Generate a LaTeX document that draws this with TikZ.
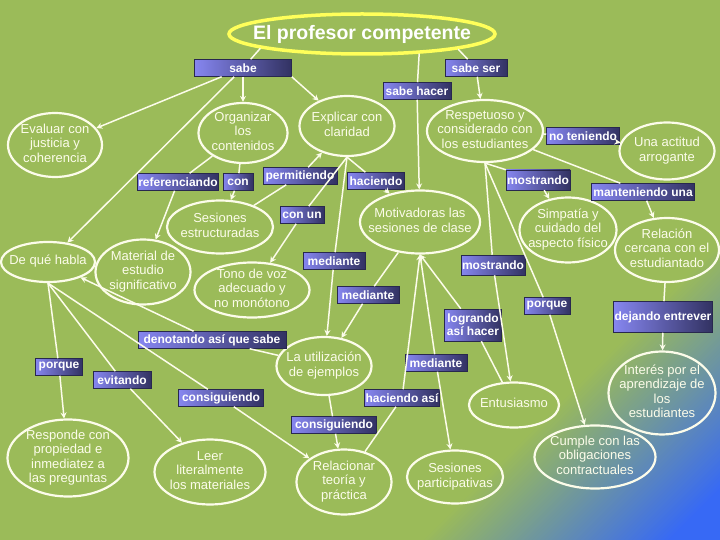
\documentclass[tikz,border=0pt]{standalone}
\usepackage{fontspec}
\setmainfont{Liberation Sans}
\usetikzlibrary{arrows.meta}
\usetikzlibrary{shapes.geometric}
\definecolor{bggreen}{RGB}{155,187,89}
\definecolor{bgblue}{RGB}{55,105,245}
\definecolor{cream}{RGB}{252,252,234}
\definecolor{goldline}{RGB}{255,255,90}
\definecolor{boxlight}{RGB}{134,134,240}
\definecolor{boxdark}{RGB}{50,50,98}
\newcommand{\ctext}[1]{\makebox[0pt]{\smash{\raisebox{-3pt}{\begin{tabular}{@{}c@{}}#1\end{tabular}}}}}
\tikzset{
concept/.style={ellipse,draw=cream,line width=2.2pt,text=cream,inner sep=0pt,font=\fontsize{13}{14.5}\selectfont},
headline/.style={ellipse,draw=goldline,line width=3.5pt,text=white,inner sep=0pt,font=\fontsize{19.5}{22}\selectfont\bfseries},
linkbox/.style={rectangle,left color=boxlight,right color=boxdark,draw=boxdark!80!black,line width=0.5pt,text=white,inner sep=1pt,minimum height=17,align=center,font=\fontsize{12}{13}\selectfont\bfseries},
link/.style={draw=cream,line width=1.5pt}
}

\begin{document}
\begin{tikzpicture}[x=1pt,y=-1pt,>={Stealth[length=6pt,width=6pt]}]
    \useasboundingbox (0,0) rectangle (720,540);
    \fill[bggreen] (0,0) rectangle (720,540);
    % corner glow, bottom right
    \foreach \i in {0,...,74} {
      \pgfmathsetmacro{\s}{960+4*\i}
      \pgfmathsetmacro{\pct}{max(0,100-100*\i/62)}
      \fill[bggreen!\pct!bgblue] (720,540) -- (\s-540,540) -- (720,\s-720) -- cycle;
    }
    %
    \node[headline,minimum width=266,minimum height=40](prof) at (362,34) {\ctext{\raisebox{-4pt}{El profesor competente}}};
    %
    \node[concept,minimum width=94,minimum height=64](evaluar) at (55,145) {\ctext{Evaluar con\\justicia y\\coherencia}};
    \node[concept,minimum width=89,minimum height=60](organizar) at (243,133) {\ctext{Organizar\\los\\contenidos}};
    \node[concept,minimum width=95,minimum height=60](explicar) at (347,126) {\ctext{Explicar con\\claridad}};
    \node[concept,minimum width=116,minimum height=62](respetuoso) at (485,131) {\ctext{Respetuoso y\\considerado con\\los estudiantes}};
    \node[concept,minimum width=95,minimum height=57](arrogante) at (667,151) {\ctext{Una actitud\\arrogante}};
    \node[concept,minimum width=106,minimum height=53](estruct) at (220,227) {\ctext{Sesiones\\estructuradas}};
    \node[concept,minimum width=94,minimum height=40](quehabla) at (48,262) {\ctext{De qué habla}};
    \node[concept,minimum width=95,minimum height=65](material) at (143,272) {\ctext{Material de\\estudio\\significativo}};
    \node[concept,minimum width=115,minimum height=55](tono) at (252,290) {\ctext{Tono de voz\\adecuado y\\no monótono}};
    \node[concept,minimum width=120,minimum height=63](motivadoras) at (420,222) {\ctext{Motivadoras las\\sesiones de clase}};
    \node[concept,minimum width=97,minimum height=65](simpatia) at (568,230) {\ctext{Simpatía y\\cuidado del\\aspecto físico}};
    \node[concept,minimum width=104,minimum height=64](relacion) at (667,250) {\ctext{Relación\\cercana con el\\estudiantado}};
    \node[concept,minimum width=95,minimum height=58](ejemplos) at (324,366) {\ctext{La utilización\\de ejemplos}};
    \node[concept,minimum width=90,minimum height=45](entusiasmo) at (514,405) {\ctext{Entusiasmo}};
    \node[concept,minimum width=107,minimum height=83](interes) at (662,393) {\ctext{Interés por el\\aprendizaje de\\los\\estudiantes}};
    \node[concept,minimum width=121,minimum height=63](cumple) at (595,457) {\ctext{Cumple con las\\obligaciones\\contractuales}};
    \node[concept,minimum width=96,minimum height=53](particip) at (455,477) {\ctext{Sesiones\\participativas}};
    \node[concept,minimum width=95,minimum height=65](relacionar) at (344,482) {\ctext{Relacionar\\teoría y\\práctica}};
    \node[concept,minimum width=111,minimum height=65](leer) at (210,472) {\ctext{Leer\\literalmente\\los materiales}};
    \node[concept,minimum width=121,minimum height=77](responde) at (68,458) {\ctext{Responde con\\propiedad e\\inmediatez a\\las preguntas}};
    %
    \node[linkbox,minimum width=97](sabe) at (243,68) {sabe};
    \node[linkbox,minimum width=62](saber) at (476,68) {sabe ser};
    \node[linkbox,minimum width=68](sabehacer) at (417,91) {sabe hacer};
    \node[linkbox,minimum width=73](noten) at (583,136) {no teniendo};
    \node[linkbox,minimum width=62,minimum height=20](mostr1) at (538,180) {mostrando};
    \node[linkbox,minimum width=103](mant) at (643,192) {manteniendo una};
    \node[linkbox,minimum width=57](hac) at (376,181) {haciendo};
    \node[linkbox,minimum width=80](refer) at (178,182) {referenciando};
    \node[linkbox,minimum width=30](conA) at (238,182) {con};
    \node[linkbox,minimum width=74](perm) at (300,176) {permitiendo};
    \node[linkbox,minimum width=44](conun) at (302,215) {con un};
    \node[linkbox,minimum width=62](med1) at (334,261) {mediante};
    \node[linkbox,minimum width=62](med2) at (368,295) {mediante};
    \node[linkbox,minimum width=62,minimum height=20](mostr2) at (493,265) {mostrando};
    \node[linkbox,minimum width=46](porq1) at (547,306) {porque};
    \node[linkbox,minimum width=96,minimum height=31](dejando) at (663,317) {dejando entrever};
    \node[linkbox,minimum width=57,minimum height=32](logr) at (473,325) {logrando\\así hacer};
    \node[linkbox,minimum width=148](denot) at (212,340) {denotando así que sabe};
    \node[linkbox,minimum width=47](porq2) at (59,367) {porque};
    \node[linkbox,minimum width=58](evit) at (122,380) {evitando};
    \node[linkbox,minimum width=85](consig1) at (221,398) {consiguiendo};
    \node[linkbox,minimum width=62](med3) at (436,363) {mediante};
    \node[linkbox,minimum width=74](hacasi) at (402,398) {haciendo así};
    \node[linkbox,minimum width=85](consig2) at (334,425) {consiguiendo};
    %
    \foreach \u / \v in {prof.188/sabe,prof.341/sabehacer,prof.351/saber,organizar/refer,organizar/conA,
      estruct/perm,explicar.south/conun,explicar.south/hac,explicar.south/med1,motivadoras/med2,
      respetuoso/noten,respetuoso.south/mostr1,respetuoso/mant,respetuoso.south/mostr2,respetuoso.south/porq1,
      relacion/dejando,entusiasmo/logr,motivadoras.south/med3,relacionar/hacasi,ejemplos/consig2,
      quehabla.south/porq2,quehabla.south/evit,quehabla.south/consig1,ejemplos/denot}
    \draw[link] (\u) -- (\v);
    %
    \foreach \u / \v in {sabe/evaluar,sabe/quehabla,sabe/organizar,sabe.south east/explicar,
      sabehacer/motivadoras,saber/respetuoso,refer/material,conA/estruct,perm/explicar,conun/tono,
      hac/motivadoras,med1/ejemplos,med2/ejemplos,noten/arrogante,mostr1/simpatia,mant/relacion,
      mostr2/entusiasmo,porq1/cumple,dejando/interes,logr/motivadoras.south,med3/particip,
      hacasi/motivadoras.south,consig2/relacionar,porq2/responde,evit/leer,consig1/relacionar,denot/quehabla}
    \draw[link,->] (\u) -- (\v);
\end{tikzpicture}
\end{document}
